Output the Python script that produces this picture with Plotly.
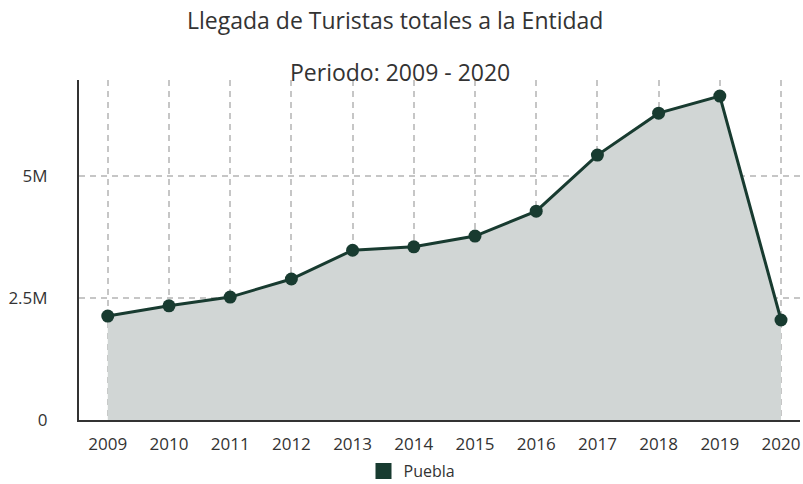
import plotly.graph_objects as go

years = [2009, 2010, 2011, 2012, 2013, 2014, 2015, 2016, 2017, 2018, 2019, 2020]
turistas = [2.13e6, 2.34e6, 2.52e6, 2.89e6, 3.48e6, 3.55e6, 3.77e6, 4.28e6, 5.43e6, 6.29e6, 6.64e6, 2.05e6]
y_tickvals = [0, 2.5e6, 5e6]
y_ticktext = ["0", "2.5M", "5M"]
series_name = "Puebla"

LINE = "#183b30"
FONT = "Open Sans"

# plot area: left 79, right 800, top 80px, bottom 420px (height 340)
def paper_y(pix):
    return (420 - pix) / 340

def paper_x(pix):
    return (pix - 79) / 721

fig = go.Figure()
fig.add_trace(go.Scatter(
    x=years, y=turistas, mode="lines+markers", fill="tozeroy",
    fillcolor="#d1d6d5", line=dict(color=LINE, width=3),
    marker=dict(color=LINE, size=13), showlegend=False, name=series_name,
))
fig.add_trace(go.Scatter(
    x=[None], y=[None], mode="markers", name=series_name,
    marker=dict(color=LINE, symbol="square", size=18),
))

fig.update_layout(
    width=803, height=484,
    margin=dict(l=79, r=3, t=80, b=64, autoexpand=False),
    paper_bgcolor="white", plot_bgcolor="white",
    font=dict(family=FONT, color="#333", size=16),
    showlegend=True,
    legend=dict(orientation="h", x=paper_x(412), xanchor="center",
                yref="container", y=(484 - 471) / 484, yanchor="middle",
                font=dict(size=16, color="#333"), itemwidth=30),
    annotations=[
        dict(text="Llegada de Turistas totales a la Entidad", x=paper_x(395), xanchor="center",
             xref="paper", yref="paper", y=paper_y(20), yanchor="middle",
             showarrow=False, font=dict(size=23, color="#333", family=FONT)),
        dict(text="Periodo: 2009 - 2020", x=paper_x(400), xanchor="center",
             xref="paper", yref="paper", y=paper_y(72), yanchor="middle",
             showarrow=False, font=dict(size=23, color="#333", family=FONT)),
    ],
)
fig.update_xaxes(
    range=[2008.53, 2020.31], tickvals=years, ticktext=[str(y) for y in years],
    showgrid=True, gridcolor="#c6c6c6", griddash="6px,5px", gridwidth=1.5,
    showline=True, linecolor="#333", linewidth=2, zeroline=False, ticks="",
    tickfont=dict(size=17, color="#333"), ticklabelstandoff=8,
)
fig.update_yaxes(
    range=[0, 6.97e6], tickvals=y_tickvals, ticktext=y_ticktext,
    showgrid=True, gridcolor="#c6c6c6", griddash="6px,5px", gridwidth=1.5,
    showline=True, linecolor="#333", linewidth=2, zeroline=False, ticks="",
    tickfont=dict(size=17, color="#333"), ticklabelstandoff=26,
)

fig.write_html("out.html")
